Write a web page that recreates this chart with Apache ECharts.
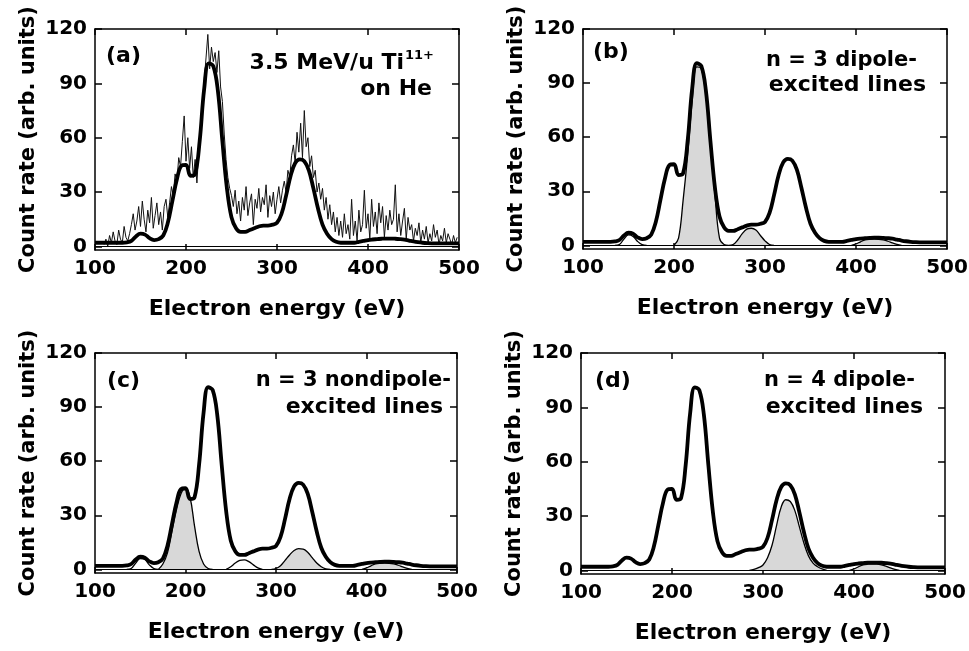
<!DOCTYPE html>
<html>
<head>
<meta charset="utf-8">
<script src="https://cdn.jsdelivr.net/npm/echarts@6/dist/echarts.min.js"></script>
<style>
  html, body { margin: 0; padding: 0; background: #fff; }
  #main { width: 969px; height: 651px; }
</style>
</head>
<body>
<div id="main"></div>
<script>
// common energy grid for the fitted curves (eV)
const energy = [100,105,110,115,120,125,130,135,140,145,150,155,160,165,170,175,180,185,190,195,
  200,205,210,215,220,225,230,235,240,245,250,255,260,265,270,275,280,285,290,295,
  300,305,310,315,320,325,330,335,340,345,350,355,360,365,370,375,380,385,390,395,
  400,405,410,415,420,425,430,435,440,445,450,455,460,465,470,475,480,485,490,495,500];

// total fit (thick line), same in all four panels
const totalFit = [2,2,2,2,2,2,2,2.2,3,5.5,7,6.5,4.5,3.5,4,6,13,25,37,44.5,
  45,39,40,58,87,101,99.5,86,58,32,16,10,8,8,9,10,11,11.5,11.5,12,
  13,18,28,39,46,48,47,42,32,21,12,7,4,2.5,2,2,2,2,2.5,3,
  3.5,3.8,4,4.2,4.3,4.3,4.2,4,3.7,3.2,2.7,2.3,2,1.8,1.7,1.7,1.7,1.7,1.7,1.7,1.7];

// measured spectrum in (a): channels from 110 eV, every 2 eV
const measStart = 110;
const measStep = 2;
const measured = [
  1,4,0,6,2,8,3,1,9,4,2,11,5,3,7,12,                       // 110-140
  18,9,14,22,11,25,15,8,20,13,27,10,17,24,12,19,9,22,26,16, // 142-180
  24,33,28,40,36,49,44,58,72,47,60,43,55,38,48,35,52,       // 182-214
  66,80,92,104,117,98,110,102,107,96,108,88,80,62,48,38,32, // 216-248
  28,22,31,18,25,14,27,20,33,17,24,29,12,26,21,32,19,27,23,34,
  16,28,22,30,18,26,33,24,31,36,30,                         // 250-310
  42,38,50,56,46,63,52,68,49,75,55,60,44,50,38,42,30,35,    // 312-346
  26,32,20,27,15,23,12,19,8,16,6,14,5,18,7,12,4,            // 348-380
  26,6,14,3,20,8,12,31,10,18,4,26,11,19,7,24,13,22,5,17,
  9,20,12,15,34,8,18,6,14,21,4,16,9,12,3,10,6,13,2,9,       // 382-460
  4,11,2,7,3,12,5,9,1,6,3,10,2,7,4,1,6,2,5                  // 462-498
];

// component lines: start energy + values every 5 eV
const bump420 = [0,0.8,2,3,3.4,3.5,3.4,3,2.3,1.4,0.6,0];           // from 395
// (b) n = 3 dipole-excited
const dip3Line150 = [0,0.5,3.5,5.8,5,2.2,0.4,0];                    // from 135
const dip3Line228 = [0,4,25,50,80,99,98,84,57,28,4,0.5,0];          // from 200
const dip3Line285 = [0,0.5,3,6.5,9,9.5,8.5,5.5,2.5,0.5,0];          // from 260
// (c) n = 3 nondipole-excited
const ndip3Line150 = [0,0.5,3.5,6,5.5,2.5,0.5,0];                   // from 135
const ndip3Line198 = [0,3,9,21,33,42,45,40,24,10,3,0.5,0];          // from 170
const ndip3Line265 = [0,1.5,3.5,5,5.3,4.3,2.5,0.8,0];               // from 245
const ndip3Line327 = [0,0.5,2,5,8,10.5,11.5,11.3,9.5,6.5,3.5,1.5,0.3,0]; // from 295
// (d) n = 4 dipole-excited
const dip4Line327 = [0,0.5,1.5,3,7,14,25,35,39,38,33,24,15,8,4,2,0.8,0]; // from 285

const xTicks = [100,200,300,400,500];
const yTicks = [0,30,60,90,120];

const FONT = '"DejaVu Sans", "Liberation Sans", sans-serif';

function pairs(xs, ys) {
  return xs.map((x, i) => [x, ys[i]]);
}
function comp(start, vals) {
  const k = energy.indexOf(start);
  return vals.map((v, i) => [energy[k + i], v]);
}

// plot rectangles, px
const grids = [
  { left: 95, top: 29, width: 364, height: 221 },
  { left: 583, top: 29, width: 364, height: 220 },
  { left: 95, top: 353, width: 362, height: 220 },
  { left: 581, top: 353, width: 364, height: 221 }
];

// components per panel: [start, values, filled]
const panelComps = [
  [],
  [[135, dip3Line150, false], [200, dip3Line228, true], [260, dip3Line285, true], [395, bump420, true]],
  [[135, ndip3Line150, false], [170, ndip3Line198, true], [245, ndip3Line265, false], [295, ndip3Line327, true], [395, bump420, true]],
  [[285, dip4Line327, true], [395, bump420, true]]
];

const frame = { color: '#000', width: 1.5 };
const xAxis = [];
const yAxis = [];
const series = [];

grids.forEach((g, i) => {
  xAxis.push({
    type: 'value', gridIndex: i, min: 100, max: 500, interval: 100,
    axisLine: { show: true, onZero: false, lineStyle: frame },
    axisTick: { inside: true, length: 6, lineStyle: frame },
    axisLabel: { color: '#000', fontFamily: FONT, fontWeight: 'bold', fontSize: 20, margin: 9 },
    splitLine: { show: false },
    name: 'Electron energy (eV)', nameLocation: 'middle', nameGap: 48,
    nameTextStyle: { color: '#000', fontFamily: FONT, fontWeight: 'bold', fontSize: 22 }
  });
  xAxis.push({
    type: 'value', gridIndex: i, position: 'top', min: 100, max: 500, interval: 100,
    axisLine: { show: true, onZero: false, lineStyle: frame },
    axisTick: { inside: true, length: 6, lineStyle: frame },
    axisLabel: { show: false },
    splitLine: { show: false }
  });
  yAxis.push({
    type: 'value', gridIndex: i, min: -2, max: 120,
    axisLine: { show: true, onZero: false, lineStyle: frame },
    axisTick: { inside: true, length: 7, lineStyle: frame, customValues: yTicks },
    axisLabel: { color: '#000', fontFamily: FONT, fontWeight: 'bold', fontSize: 20, margin: 8, customValues: yTicks },
    splitLine: { show: false },
    name: 'Count rate (arb. units)', nameLocation: 'middle', nameGap: 56,
    nameTextStyle: { color: '#000', fontFamily: FONT, fontWeight: 'bold', fontSize: 21 }
  });
  yAxis.push({
    type: 'value', gridIndex: i, position: 'right', min: -2, max: 120,
    axisLine: { show: true, onZero: false, lineStyle: frame },
    axisTick: { inside: true, length: 7, lineStyle: frame, customValues: yTicks },
    axisLabel: { show: false },
    splitLine: { show: false }
  });

  if (i === 0) {
    series.push({
      type: 'line', xAxisIndex: 0, yAxisIndex: 0, symbol: 'none', z: 2,
      data: measured.map((v, k) => [measStart + k * measStep, v]),
      lineStyle: { color: '#111', width: 1 }
    });
  }
  panelComps[i].forEach(c => {
    series.push({
      type: 'line', xAxisIndex: 2 * i, yAxisIndex: 2 * i, symbol: 'none', z: 2,
      smooth: 0.4, data: comp(c[0], c[1]),
      lineStyle: { color: '#000', width: 1.3 },
      areaStyle: c[2] ? { color: '#d8d8d8', origin: 0, opacity: 1 } : undefined
    });
  });
  series.push({
    type: 'line', xAxisIndex: 2 * i, yAxisIndex: 2 * i, symbol: 'none', z: 3,
    smooth: 0.4, data: pairs(energy, totalFit),
    lineStyle: { color: '#000', width: 3.8 },
    markLine: {
      silent: true, symbol: 'none', animation: false,
      label: { show: false },
      lineStyle: { color: '#000', width: 1, type: 'solid' },
      data: [{ yAxis: 0 }]
    }
  });
});

function label(x, y, text, align, size) {
  return {
    type: 'text', x: x, y: y, z: 10,
    style: {
      text: text, fill: '#000', align: align, verticalAlign: 'middle',
      font: 'bold ' + size + 'px ' + FONT
    }
  };
}

const graphic = [
  label(106, 56, '(a)', 'left', 22),
  label(404, 63, '3.5 MeV/u Ti', 'right', 22),
  label(434, 56, '11+', 'right', 13),
  label(432, 89, 'on He', 'right', 22),

  label(593, 52, '(b)', 'left', 22),
  label(917, 61, 'n = 3 dipole-', 'right', 21),
  label(926, 85, 'excited lines', 'right', 22),

  label(107, 381, '(c)', 'left', 22),
  label(451, 381, 'n = 3 nondipole-', 'right', 21),
  label(443, 407, 'excited lines', 'right', 22),

  label(595, 381, '(d)', 'left', 22),
  label(915, 381, 'n = 4 dipole-', 'right', 21),
  label(923, 407, 'excited lines', 'right', 22)
];

const chart = echarts.init(document.getElementById('main'), null, { renderer: 'canvas' });
chart.setOption({
  backgroundColor: '#fff',
  animation: false,
  grid: grids.map(g => Object.assign({ outerBoundsMode: 'none' }, g)),
  xAxis: xAxis,
  yAxis: yAxis,
  series: series,
  graphic: graphic
});
</script>
</body>
</html>
